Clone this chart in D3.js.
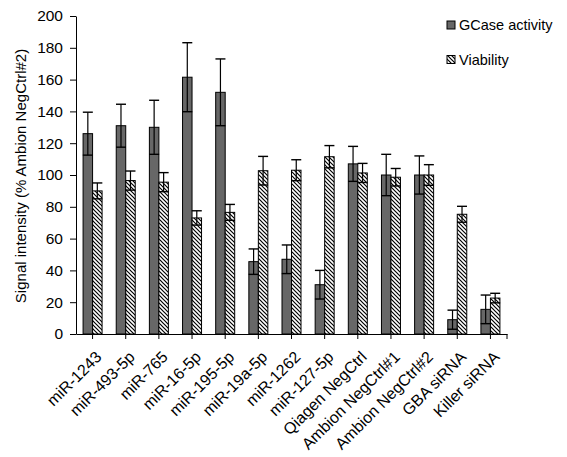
<!DOCTYPE html>
<html>
<head>
<meta charset="utf-8">
<script src="https://cdn.jsdelivr.net/npm/d3@7"></script>
<style>
  body { margin: 0; background: #fff; }
  text { font-family: "Liberation Sans", Arial, sans-serif; fill: #000; }
</style>
</head>
<body>
<div id="chart"></div>
<script>
// categories and values
let categories = ["miR-1243", "miR-493-5p", "miR-765", "miR-16-5p", "miR-195-5p", "miR-19a-5p",
    "miR-1262", "miR-127-5p", "Qiagen NegCtrl", "Ambion NegCtrl#1", "Ambion NegCtrl#2",
    "GBA siRNA", "Killer siRNA"];
let gcase    = [126, 131, 130, 161.5, 152, 45.5, 47, 31, 107, 100, 100, 9, 15.5];
let gcaseErr = [13.5, 13.5, 17, 21.7, 21, 8, 9, 9, 11, 13, 12, 6, 9];
let viab     = [90, 96.5, 95.5, 73, 76.5, 102.7, 103, 111.5, 101.3, 98.6, 100, 75.3, 22.6];
let viabErr  = [5, 6, 6, 4.5, 5, 9, 6.6, 7, 6, 5.5, 6.5, 5, 3];
let yTicks = [0, 20, 40, 60, 80, 100, 120, 140, 160, 180, 200];
let seriesNames = ["GCase activity", "Viability"];

let width = 567, height = 457;

let svg = d3.select("#chart")
    .append("svg")
    .attr("width", width)
    .attr("height", height);

// hatch pattern for the viability bars
let defs = svg.append("defs");
let pat = defs.append("pattern")
    .attr("id", "hatch")
    .attr("patternUnits", "userSpaceOnUse")
    .attr("width", 4).attr("height", 4);
pat.append("rect").attr("width", 4).attr("height", 4).attr("fill", "#fff");
pat.append("path")
    .attr("d", "M-1,-1L5,5M-1,3L1,5M3,-1L5,1")
    .attr("stroke", "#000")
    .attr("stroke-width", 1.2);

let x = d3.scaleBand().domain(categories).range([76, 507]).padding(0);
let y = d3.scaleLinear().domain([0, 200]).range([334, 16]);
let barW = 9.5;

let data = categories.map(function(c, i) {
    return {cat: c, g: gcase[i], ge: gcaseErr[i], v: viab[i], ve: viabErr[i]};
});

// bars
let groups = svg.selectAll(".grp").data(data).enter().append("g");
groups.append("rect")
    .attr("x", d => x(d.cat) + x.bandwidth() / 2 - barW)
    .attr("y", d => y(d.g))
    .attr("width", barW)
    .attr("height", d => y(0) - y(d.g))
    .attr("fill", "#676767")
    .attr("stroke", "#000")
    .attr("stroke-width", 1);
groups.append("rect")
    .attr("x", d => x(d.cat) + x.bandwidth() / 2)
    .attr("y", d => y(d.v))
    .attr("width", barW)
    .attr("height", d => y(0) - y(d.v))
    .attr("fill", "url(#hatch)")
    .attr("stroke", "#000")
    .attr("stroke-width", 1);

// error bars
function errorBar(sel, cx, val, err) {
    let capW = 5;
    sel.append("line")
        .attr("x1", cx).attr("x2", cx)
        .attr("y1", d => y(val(d) - err(d))).attr("y2", d => y(val(d) + err(d)))
        .attr("stroke", "#000").attr("stroke-width", 1.2);
    [1, -1].forEach(function(s) {
        sel.append("line")
            .attr("x1", d => cx(d) - capW).attr("x2", d => cx(d) + capW)
            .attr("y1", d => y(val(d) + s * err(d))).attr("y2", d => y(val(d) + s * err(d)))
            .attr("stroke", "#000").attr("stroke-width", 1.4);
    });
}
errorBar(groups, d => x(d.cat) + x.bandwidth() / 2 - barW / 2, d => d.g, d => d.ge);
errorBar(groups, d => x(d.cat) + x.bandwidth() / 2 + barW / 2, d => d.v, d => d.ve);

// y axis
let yAxis = svg.append("g")
    .attr("transform", "translate(76,0)")
    .call(d3.axisLeft(y).tickValues(yTicks).tickSize(6).tickSizeOuter(0));
yAxis.select(".domain").attr("stroke", "#000");
yAxis.selectAll("text")
    .attr("font-size", 15.5)
    .attr("x", -13)
    .style("font-family", "Liberation Sans, Arial, sans-serif");

// x axis
let xAxis = svg.append("g")
    .attr("transform", "translate(0,334)")
    .call(d3.axisBottom(x).tickSize(5).tickSizeOuter(0));
xAxis.select(".domain").attr("stroke", "#000");
xAxis.append("line")
    .attr("x1", 507).attr("x2", 507).attr("y1", 0).attr("y2", 5)
    .attr("stroke", "#000");
xAxis.selectAll(".tick text")
    .attr("font-size", 16)
    .attr("text-anchor", "end")
    .attr("x", 0).attr("y", 0)
    .attr("dy", 0)
    .attr("transform", "translate(10,24) rotate(-45)")
    .style("font-family", "Liberation Sans, Arial, sans-serif");

// y title
svg.append("text")
    .attr("transform", "translate(26,176) rotate(-90)")
    .attr("text-anchor", "middle")
    .attr("font-size", 15)
    .text("Signal intensity (% Ambion NegCtrl#2)");

// legend
let legend = svg.append("g");
let legY = [25, 59.5];
seriesNames.forEach(function(name, i) {
    legend.append("rect")
        .attr("x", 447).attr("y", legY[i] - 4)
        .attr("width", 8).attr("height", 8)
        .attr("fill", i === 0 ? "#676767" : "url(#hatch)")
        .attr("stroke", "#000");
    legend.append("text")
        .attr("x", 459).attr("y", legY[i] + 5)
        .attr("font-size", 14.5)
        .text(name);
});
</script>
</body>
</html>
